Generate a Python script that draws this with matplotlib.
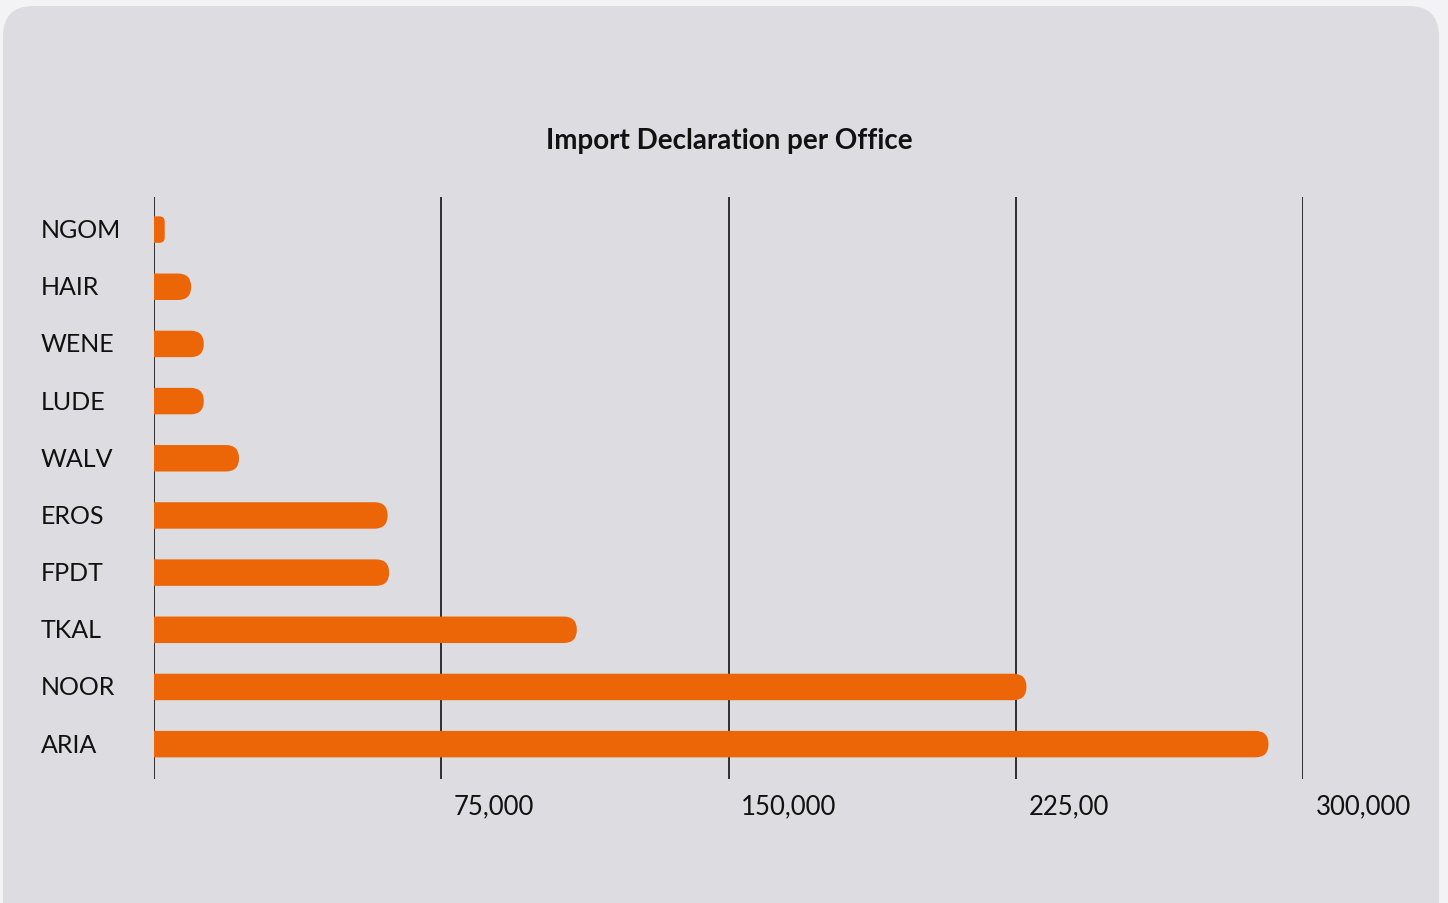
import matplotlib.pyplot as plt
from matplotlib.patches import FancyBboxPatch
from matplotlib.transforms import blended_transform_factory

# Import declarations per customs office
offices = ["NGOM", "HAIR", "WENE", "LUDE", "WALV", "EROS", "FPDT", "TKAL", "NOOR", "ARIA"]
declarations = [2800, 9700, 13000, 13000, 22200, 61000, 61400, 110400, 227800, 291000]
tick_values = [0, 75000, 150000, 225000, 300000]
tick_labels = ["", "75,000", "150,000", "225,00", "300,000"]

W, H = 1448, 904
fig = plt.figure(figsize=(W / 100, H / 100), dpi=100)
fig.patch.set_facecolor("#f3f3f5")
plt.rcParams["font.family"] = ["Lato", "DejaVu Sans"]

# rounded card behind everything
card = FancyBboxPatch((3 / W, -40 / H), 1436 / W, (H - 7 + 40) / H,
                      boxstyle="round,pad=0,rounding_size=0.021",
                      mutation_aspect=W / H,
                      transform=fig.transFigure, facecolor="#dcdce1",
                      edgecolor="none", zorder=-10)
fig.patches.append(card)

ax_l, ax_r, ax_t, ax_b = 154, 1303, 198, 780
ax = fig.add_axes([ax_l / W, (H - ax_b) / H, (ax_r - ax_l) / W, (ax_b - ax_t) / H])
ax.set_facecolor("none")

ylo, yhi = -0.57, len(offices) - 1 + 0.61
ax.set_xlim(0, 300000)
ax.set_ylim(yhi, ylo)

# data units per pixel, used to make round caps look circular
x_per_px = 300000 / (ax_r - ax_l)
y_per_px = (yhi - ylo) / (ax_b - ax_t)
bar_h = 0.463
cap_r = (bar_h / y_per_px / 2) * x_per_px

for i, v in enumerate(declarations):
    rr = min(cap_r, v / 2)
    patch = FancyBboxPatch((-rr, i - bar_h / 2), v + rr, bar_h,
                           boxstyle=f"round,pad=0,rounding_size={rr}",
                           mutation_aspect=y_per_px / x_per_px,
                           facecolor="#ec6608", edgecolor="none", zorder=2)
    ax.add_patch(patch)

for xv in tick_values:
    ax.axvline(xv, color="black", lw=1.1, zorder=1)

for s in ax.spines.values():
    s.set_visible(False)
ax.set_xticks([])
ax.set_yticks([])

trans = blended_transform_factory(ax.transData, ax.transAxes)
for xv, lab in zip(tick_values, tick_labels):
    ax.annotate(lab, (xv, 0), xycoords=trans, xytext=(9, -19),
                textcoords="offset points", ha="left", va="center",
                fontsize=18.5, color="#111111")

for i, name in enumerate(offices):
    ax.annotate(name, (0, i), xycoords=("figure pixels", "data"),
                xytext=(41, 0), textcoords="offset pixels",
                ha="left", va="center", fontsize=18, color="#111111")

fig.text(729 / W, 1 - 141 / H, "Import Declaration per Office",
         ha="center", va="center", fontsize=20, fontweight="bold",
         color="#111111")

fig.savefig("out.png", dpi=100, facecolor=fig.get_facecolor())
